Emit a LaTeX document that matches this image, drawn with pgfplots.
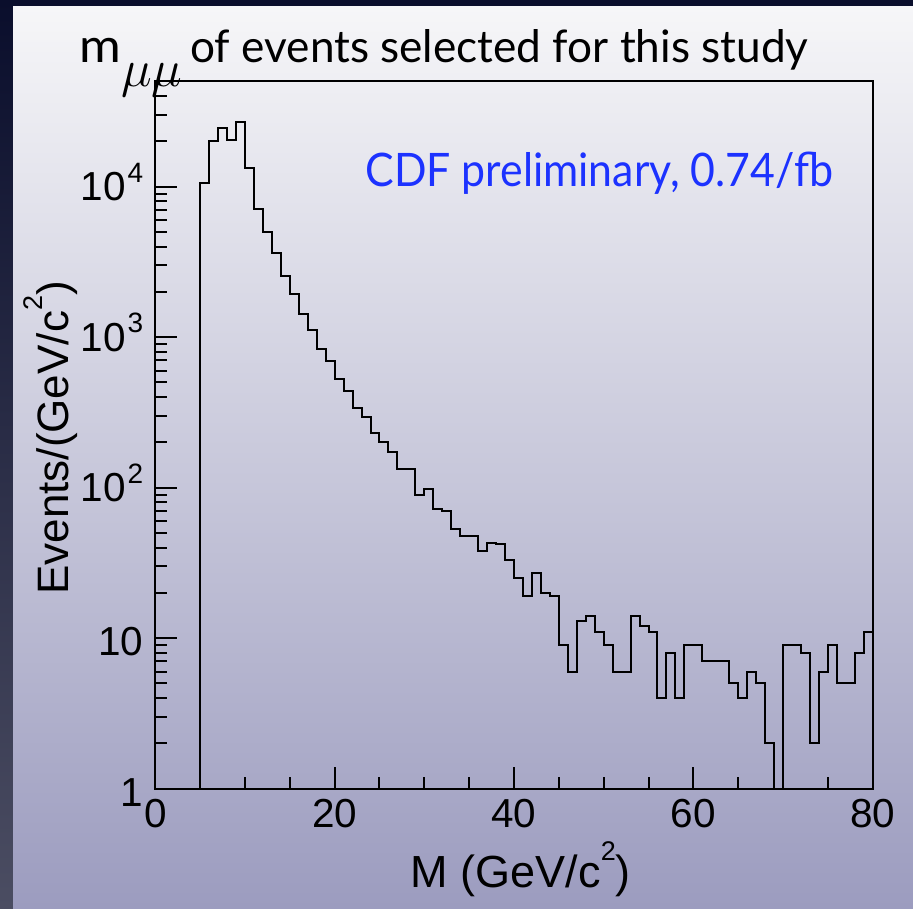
\documentclass[border=0pt]{standalone}
\usepackage{fontspec}
\setmainfont{Liberation Sans}
\newfontfamily\gill{Lato}
\usepackage{graphicx}
\usepackage{pgfplots}
\usepackage{pgfplotstable}
\pgfplotsset{compat=1.18}
\definecolor{bgtop}{RGB}{10,14,44}
\definecolor{bgbot}{RGB}{75,77,98}
\definecolor{pantop}{RGB}{246,246,248}
\definecolor{panbot}{RGB}{156,156,191}
\definecolor{cdfblue}{RGB}{28,50,255}

\pgfplotstableread{
x y
0 1
1 1
2 1
3 1
4 1
5 10600
6 20100
7 24600
8 20400
9 26900
10 13300
11 7110
12 5020
13 3610
14 2540
15 1930
16 1435
17 1120
18 834
19 697
20 531
21 438
22 336
23 296
24 230
25 200
26 172
27 134
28 134
29 90
30 98
31 72
32 70
33 53
34 48
35 48
36 38
37 43
38 42
39 33
40 25
41 19
42 27
43 20
44 19
45 9
46 6
47 13
48 14
49 11
50 9
51 6
52 6
53 14
54 12
55 11
56 4
57 8
58 4
59 9
60 9
61 7
62 7
63 7
64 5
65 4
66 6
67 5
68 2
69 1
70 9
71 9
72 8
73 2
74 6
75 9
76 5
77 5
78 8
79 11
80 11
}\histdata

\begin{document}
\begin{tikzpicture}
\useasboundingbox (0,0) rectangle (456.5pt,454pt);
\shade[top color=bgtop, bottom color=bgbot] (0,0) rectangle (456.5pt,454pt);
\shade[top color=pantop, bottom color=panbot] (6.5pt,0) rectangle (456.5pt,450.5pt);

\begin{axis}[
  at={(77.65pt,59.7pt)}, anchor=south west,
  scale only axis, width=358.7pt, height=353.55pt,
  xmin=0, xmax=80, ymin=1, ymax=5e4, ymode=log,
  xtick={0,20,40,60,80}, xticklabels={0,20,40,60,80},
  minor xtick={5,10,15,25,30,35,45,50,55,65,70,75},
  ytick={1,10,100,1000,10000},
  yticklabels={
    \raisebox{-1.65pt}{1},
    \raisebox{-1.65pt}{10},
    10\hspace{0.8pt}\raisebox{9.35pt}{\fontsize{14}{14}\selectfont 2},
    10\hspace{0.8pt}\raisebox{9.35pt}{\fontsize{14}{14}\selectfont 3},
    10\hspace{0.8pt}\raisebox{9.35pt}{\fontsize{14}{14}\selectfont 4}},
  minor ytick={2,3,4,5,6,7,8,9,20,30,40,50,60,70,80,90,200,300,400,500,600,700,800,900,2000,3000,4000,5000,6000,7000,8000,9000,20000,30000,40000,50000},
  xtick pos=bottom, ytick pos=left, tick align=inside,
  major tick length=10.65pt, minor tick length=5.65pt,
  tick style={black, line width=1pt},
  axis line style={black, line width=1pt},
  xticklabel style={anchor=north, inner sep=0pt, yshift=-5.2pt, font=\fontsize{20.25}{24}\selectfont},
  yticklabel style={anchor=base east, inner sep=0pt, xshift=-5.9pt, yshift=-7.1pt, font=\fontsize{20.25}{24}\selectfont},
]
\addplot[const plot, black, line width=1pt] table[x=x, y=y] {\histdata};
\end{axis}

\node[anchor=base west, inner sep=0pt, text=black] at (39.5pt,422.5pt)
  {\resizebox{364.5pt}{16.5pt}{\gill\fontsize{22}{26}\selectfont \scalebox{1.15}[1.05]{m}\hspace{0em}\raisebox{-0.53em}{\scalebox{1.25}{$\mu\mu$}}\hspace{0.18em}of events selected for this study}};
\node[anchor=base west, inner sep=0pt, text=cdfblue] at (182.5pt,360.5pt)
  {\resizebox{234pt}{17.25pt}{\gill\fontsize{22}{26}\selectfont CDF preliminary, 0.74/fb}};
\node[rotate=90, anchor=base, inner sep=0pt] at (34pt,235pt)
  {\fontsize{22}{26}\selectfont Events/(GeV/c\raisebox{12.8pt}{\fontsize{13.5}{14}\selectfont 2})};
\node[anchor=base, inner sep=0pt] at (260.4pt,10.15pt)
  {\fontsize{22.5}{26}\selectfont M (GeV/c\raisebox{13.5pt}{\fontsize{13.5}{14}\selectfont 2})};
\end{tikzpicture}
\end{document}
